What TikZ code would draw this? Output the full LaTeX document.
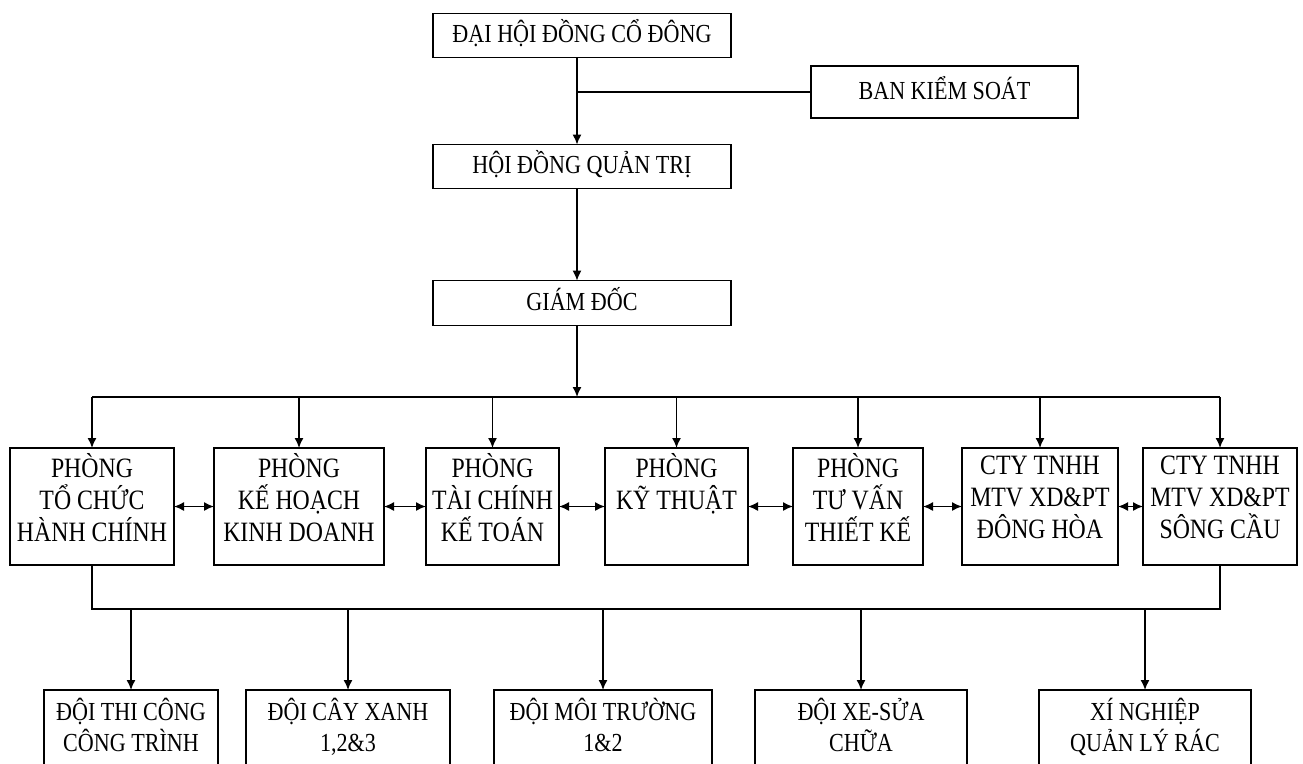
\documentclass[tikz,border=0pt]{standalone}
\usepackage{fontspec}
\setmainfont{Liberation Serif}[FakeStretch=0.85]
\usepackage{tikz}
\usetikzlibrary{arrows,arrows.meta,calc,positioning}
\lineskiplimit=-100pt
\tikzset{
    block/.style = {draw, rectangle, line width=1.5pt, outer sep=0pt, align=center, inner xsep=2pt, inner ysep=6pt, execute at begin node=\vphantom{ỔẬ}\strut, execute at end node=\strut},
    topblock/.style = {block, minimum width=298, minimum height=44, font=\fontsize{26}{30}\selectfont},
    dept/.style = {block, inner ysep=2pt, minimum height=117, font=\fontsize{28}{32}\selectfont, execute at end node={\strut\rule[-18pt]{0pt}{0pt}}},
    crew/.style = {block, inner ysep=8pt, font=\fontsize{26}{31}\selectfont},
    arrow/.style = {draw, ->, line width=1.5pt},
    link/.style = {draw, <->, line width=1.5pt},
    wire/.style = {draw, line width=1.5pt},
}

\begin{document}
\begin{tikzpicture}[x=1pt, y=-1pt, >={Latex[length=10pt,width=9pt]}]
    \clip (0,0) rectangle (1303,763);
    \fill [white] (0,0) rectangle (1303,763);
    \node [topblock] (dhdcd) at (582,35.5) {ĐẠI HỘI ĐỒNG CỔ ĐÔNG};
    \node [topblock, minimum width=267, minimum height=52] (bks) at (944.5,92) {BAN KIỂM SOÁT};
    \node [topblock, below=87pt of dhdcd] (hdqt) {HỘI ĐỒNG QUẢN TRỊ};
    \node [topblock, minimum height=45, below=92pt of hdqt] (gd) {GIÁM ĐỐC};
    \coordinate (spine) at (577,0);
    \coordinate (bus1) at (577,397);
    \coordinate (bus2) at (577,609);
    % phong ban
    \node [dept, minimum width=164] (u1) at (92,506.5) {PHÒNG\\TỔ CHỨC\\HÀNH CHÍNH};
    \node [dept, minimum width=170, right=40pt of u1] (u2) {PHÒNG\\KẾ HOẠCH\\KINH DOANH};
    \node [dept, minimum width=133, right=42pt of u2] (u3) {PHÒNG\\TÀI CHÍNH\\KẾ TOÁN};
    \node [dept, minimum width=143, right=46pt of u3] (u4) {PHÒNG\\KỸ THUẬT\\};
    \node [dept, minimum width=130, right=45pt of u4] (u5) {PHÒNG\\TƯ VẤN\\THIẾT KẾ};
    \node [dept, minimum width=156, right=39pt of u5] (u6) {CTY TNHH\\MTV XD\&PT\\ĐÔNG HÒA};
    \node [dept, minimum width=154, right=25pt of u6] (u7) {CTY TNHH\\MTV XD\&PT\\SÔNG CẦU};
    % doi, xi nghiep
    \node [crew, minimum width=174, anchor=north] (t1) at (131,690) {ĐỘI THI CÔNG\\CÔNG TRÌNH};
    \node [crew, minimum width=204, right=28pt of t1] (t2) {ĐỘI CÂY XANH\\1,2\&3};
    \node [crew, minimum width=218, right=44pt of t2] (t3) {ĐỘI MÔI TRƯỜNG\\1\&2};
    \node [crew, minimum width=212, right=43pt of t3] (t4) {ĐỘI XE-SỬA\\CHỮA};
    \node [crew, minimum width=212, right=72pt of t4] (t5) {XÍ NGHIỆP\\QUẢN LÝ RÁC};

    \draw [arrow] (dhdcd.south -| spine) -- (hdqt.north -| spine);
    \draw [wire] (spine |- bks.west) -- (bks.west);
    \draw [arrow] (hdqt.south -| spine) -- (gd.north -| spine);
    \draw [arrow] (gd.south -| spine) -- (bus1);
    \draw [wire] (u1.north |- bus1) -- (u7.north |- bus1);
    \draw [arrow] (u1.north |- bus1) -- (u1.north);
    \draw [arrow] (u2.north |- bus1) -- (u2.north);
    \draw [arrow] (u3.north |- bus1) -- (u3.north);
    \draw [arrow] (u4.north |- bus1) -- (u4.north);
    \draw [arrow] (u5.north |- bus1) -- (u5.north);
    \draw [arrow] (u6.north |- bus1) -- (u6.north);
    \draw [arrow] (u7.north |- bus1) -- (u7.north);
    \draw [link] (u1) -- (u2);
    \draw [link] (u2) -- (u3);
    \draw [link] (u3) -- (u4);
    \draw [link] (u4) -- (u5);
    \draw [link] (u5) -- (u6);
    \draw [link] (u6) -- (u7);
    \draw [wire] (u1.south) -- (u1.south |- bus2) -- (u7.south |- bus2) -- (u7.south);
    \draw [arrow] (t1.north |- bus2) -- (t1.north);
    \draw [arrow] (t2.north |- bus2) -- (t2.north);
    \draw [arrow] (t3.north |- bus2) -- (t3.north);
    \draw [arrow] (t4.north |- bus2) -- (t4.north);
    \draw [arrow] (t5.north |- bus2) -- (t5.north);
\end{tikzpicture}
\end{document}
